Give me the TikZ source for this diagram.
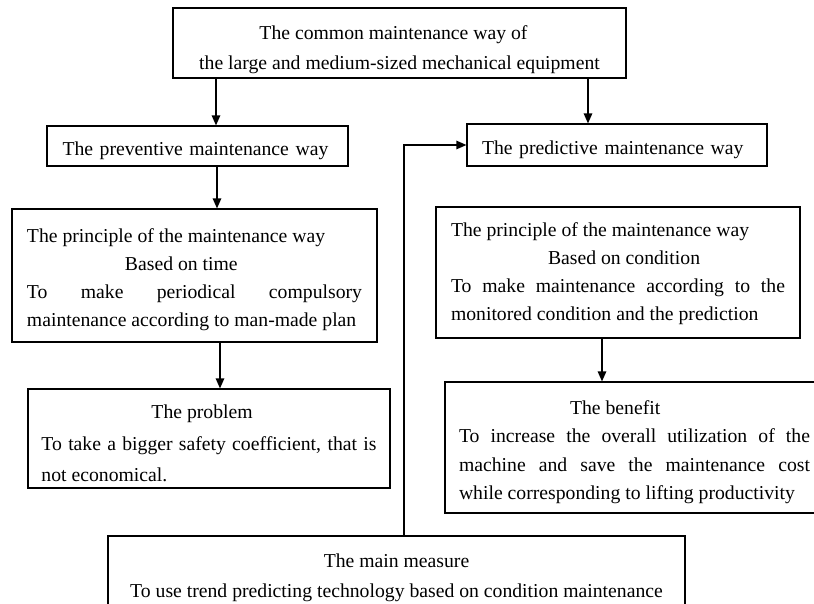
\documentclass[tikz,border=0pt]{standalone}
\usepackage{fontspec}
\setmainfont{Liberation Serif}
\usetikzlibrary{arrows.meta}
\newcommand{\lowered}[2]{\raisebox{-#1}[\height][\depth]{#2}}
\begin{document}
\begin{tikzpicture}[x=1pt,y=-1pt,
  box/.style={draw, line width=1.2pt, inner sep=0pt, font=\fontsize{19.7pt}{28pt}\selectfont},
  arr/.style={line width=1.3pt, -{Triangle[length=10pt,width=8.5pt]}}]
\useasboundingbox (0,0) rectangle (814,604);
\clip (0,0) rectangle (814,604);
\fill[white] (0,0) rectangle (814,604);

\node[box, minimum width=453pt, minimum height=70pt,
      font=\fontsize{19.7pt}{30pt}\selectfont] (top) at (399.5,43)
  {\lowered{7pt}{\parbox{440pt}{\centering \hspace*{-12pt}The common maintenance way of\\the large and medium-sized mechanical equipment}}};

\node[box, minimum width=301pt, minimum height=40pt, text width=270pt, inner xsep=15.5pt, align=left] (prev) at (197.5,146)
  {\lowered{5pt}{The preventive maintenance way}};

\node[box, minimum width=300pt, minimum height=42pt, text width=270pt, inner xsep=15pt, align=left] (pred) at (617,145)
  {\lowered{5pt}{The predictive maintenance way}};

\node[box, minimum width=365pt, minimum height=133pt] (lp) at (194.5,275.5)
  {\lowered{4pt}{\parbox{335pt}{\raggedright The principle of the maintenance way\\
   \hspace*{98pt}Based on time\\
   \makebox[335pt][s]{To make periodical compulsory}\\
   maintenance according to man-made plan}}};

\node[box, minimum width=364pt, minimum height=131pt] (rp) at (618,272.5)
  {\lowered{1pt}{\parbox{334pt}{\raggedright The principle of the maintenance way\\
   \hspace*{97pt}Based on condition\\
   \makebox[334pt][s]{To make maintenance according to the}\\
   monitored condition and the prediction}}};

\node[box, minimum width=362pt, minimum height=99pt,
      font=\fontsize{19.7pt}{31.5pt}\selectfont] (prob) at (209,438.5)
  {\lowered{5pt}{\parbox{335pt}{\raggedright \hspace*{110pt}The problem\\
   \makebox[335pt][s]{To take a bigger safety coefficient, that is}\\
   not economical.}}};

\node[box, minimum width=379pt, minimum height=131pt,
      font=\fontsize{19.7pt}{28.4pt}\selectfont] (ben) at (634.5,447.5)
  {\lowered{4.5pt}{\parbox{351pt}{\raggedright \hspace*{111pt}The benefit\\
   \makebox[351pt][s]{To increase the overall utilization of the}\\
   \makebox[351pt][s]{machine and save the maintenance cost}\\
   while corresponding to lifting productivity}}};

\node[box, minimum width=577pt, minimum height=78pt,
      font=\fontsize{19.7pt}{30pt}\selectfont] (main) at (396.5,575)
  {\lowered{3pt}{\parbox{560pt}{\centering The main measure\\To use trend predicting technology based on condition maintenance}}};

\coordinate (xa) at (216,0);
\coordinate (xb) at (588,0);
\coordinate (xc) at (217,0);
\coordinate (xd) at (220,0);
\coordinate (xe) at (602,0);
\coordinate (xf) at (404,0);

\draw[arr] (top.south -| xa) -- (prev.north -| xa);
\draw[arr] (top.south -| xb) -- (pred.north -| xb);
\draw[arr] (prev.south -| xc) -- (lp.north -| xc);
\draw[arr] (lp.south -| xd) -- (prob.north -| xd);
\draw[arr] (rp.south -| xe) -- (ben.north -| xe);
\draw[arr] (main.north -| xf) |- (pred.west);
\end{tikzpicture}
\end{document}
